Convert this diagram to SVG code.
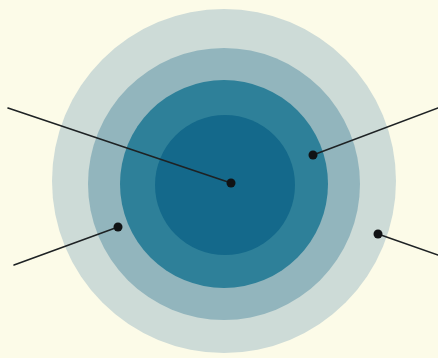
<svg xmlns="http://www.w3.org/2000/svg" width="438" height="358" viewBox="0 0 438 358">
<style>
.lead{stroke:#1e2224;stroke-width:1.6;fill:none;stroke-linecap:round}
.dot{fill:#111315}
</style>
<rect width="438" height="358" fill="#fcfbe8"/>
<g id="rings">
<circle id="ring-outer" cx="224" cy="181" r="172" fill="#cddbd7"/>
<circle id="ring-2" cx="224" cy="184" r="136" fill="#92b5bd"/>
<circle id="ring-3" cx="224" cy="184" r="104" fill="#2e8099"/>
<circle id="ring-core" cx="225" cy="185" r="70" fill="#14698b"/>
</g>
<g id="connectors">
<line class="lead" x1="8" y1="108" x2="231" y2="183"/>
<line class="lead" x1="313" y1="155" x2="438" y2="108"/>
<line class="lead" x1="118" y1="227" x2="14" y2="265"/>
<line class="lead" x1="378" y1="234" x2="438" y2="255"/>
</g>
<g id="dots">
<circle class="dot" cx="231" cy="183" r="4.5"/>
<circle class="dot" cx="313" cy="155" r="4.5"/>
<circle class="dot" cx="118" cy="227" r="4.5"/>
<circle class="dot" cx="378" cy="234" r="4.5"/>
</g>
</svg>
